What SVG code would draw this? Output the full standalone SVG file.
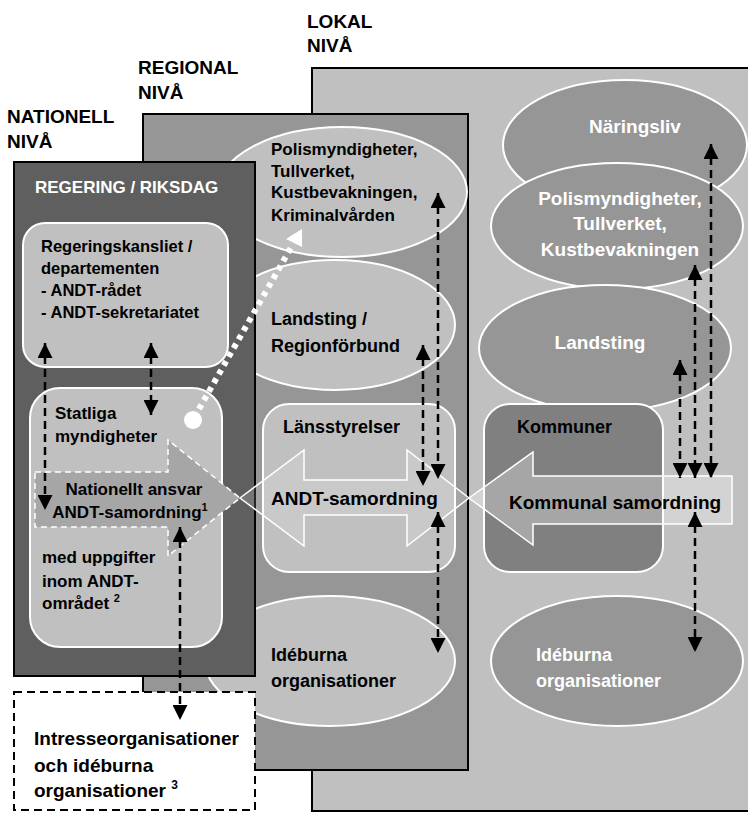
<svg xmlns="http://www.w3.org/2000/svg" width="748" height="813" viewBox="0 0 748 813">
<defs>
<style>
text{font-family:"Liberation Sans",Arial,sans-serif;font-weight:bold;fill:#000}
.lvl{font-size:19px}
.w{fill:#fff}
.panel{stroke:#000;stroke-width:2}
.box{fill:#c0c0c0;stroke:#fff;stroke-width:2}
.ell{stroke:#fff;stroke-width:2}
.dash{stroke:#000;stroke-width:2.5;stroke-dasharray:8 5;fill:none;marker-start:url(#ah);marker-end:url(#ah)}
</style>
<marker id="ah" viewBox="0 0 15 15" refX="15" refY="7.5" markerWidth="15" markerHeight="15" markerUnits="userSpaceOnUse" orient="auto-start-reverse">
<path d="M0,0 L15,7.5 L0,15 z" fill="#000"/>
</marker>
</defs>
<rect width="748" height="813" fill="#fff"/>

<!-- level labels -->
<g id="labels">
<text class="lvl" x="307" y="28">LOKAL</text>
<text class="lvl" x="307" y="52">NIVÅ</text>
<text class="lvl" x="138" y="74">REGIONAL</text>
<text class="lvl" x="138" y="99">NIVÅ</text>
<text class="lvl" x="7" y="123">NATIONELL</text>
<text class="lvl" x="7" y="148">NIVÅ</text>
</g>

<!-- lokal panel -->
<g id="lokal">
<rect class="panel" x="312" y="68" width="440" height="743" fill="#c0c0c0"/>
<g id="naringsliv">
<ellipse class="ell" cx="625" cy="145" rx="122" ry="65" fill="#969696"/>
<text class="w" x="635" y="133" font-size="19" text-anchor="middle">Näringsliv</text>
</g>
<g id="polis-lokal">
<ellipse class="ell" cx="617" cy="226" rx="126" ry="63" fill="#969696"/>
<text class="w" font-size="19" text-anchor="middle"><tspan x="620" y="205">Polismyndigheter,</tspan><tspan x="620" y="230">Tullverket,</tspan><tspan x="620" y="256">Kustbevakningen</tspan></text>
</g>
<g id="landsting-lokal">
<ellipse class="ell" cx="605" cy="348" rx="126" ry="63" fill="#969696"/>
<text class="w" x="600" y="349" font-size="19" text-anchor="middle">Landsting</text>
</g>
<g id="kommuner">
<rect x="484" y="404" width="179" height="168" rx="26" fill="#808080" stroke="#fff" stroke-width="2"/>
<text x="517" y="433" font-size="18">Kommuner</text>
</g>
<g id="ideburna-lokal">
<ellipse class="ell" cx="617" cy="661" rx="126" ry="65" fill="#969696"/>
<text class="w" font-size="18"><tspan x="536" y="661">Idéburna</tspan><tspan x="536" y="687">organisationer</tspan></text>
</g>
</g>

<!-- regional panel -->
<g id="regional">
<rect class="panel" x="143" y="114" width="325" height="656" fill="#969696"/>
<g id="polis-regional">
<ellipse class="ell" cx="342" cy="192" rx="125" ry="65" fill="#c0c0c0"/>
<text font-size="17"><tspan x="271" y="155">Polismyndigheter,</tspan><tspan x="271" y="177">Tullverket,</tspan><tspan x="271" y="198">Kustbevakningen,</tspan><tspan x="271" y="221">Kriminalvården</tspan></text>
</g>
<g id="landsting-regional">
<ellipse class="ell" cx="335" cy="325" rx="120" ry="65" fill="#c0c0c0"/>
<text font-size="18"><tspan x="271" y="325">Landsting /</tspan><tspan x="271" y="352">Regionförbund</tspan></text>
</g>
<g id="lansstyrelser">
<rect class="box" x="263" y="404" width="192" height="168" rx="26"/>
<text x="283" y="433" font-size="18">Länsstyrelser</text>
</g>
<g id="ideburna-regional">
<ellipse class="ell" cx="330" cy="661" rx="125" ry="65" fill="#c0c0c0"/>
<text font-size="18"><tspan x="271" y="661">Idéburna</tspan><tspan x="271" y="687">organisationer</tspan></text>
</g>
</g>

<!-- national panel -->
<g id="nationell">
<rect class="panel" x="14" y="162" width="241" height="514" fill="#5f5f5f"/>
<text class="w" x="35" y="193" font-size="17">REGERING / RIKSDAG</text>
<g id="regeringskansliet">
<rect class="box" x="23" y="223" width="205" height="144" rx="22"/>
<text font-size="16.5"><tspan x="41" y="252">Regeringskansliet /</tspan><tspan x="41" y="274">departementen</tspan><tspan x="41" y="296">- ANDT-rådet</tspan><tspan x="41" y="318">- ANDT-sekretariatet</tspan></text>
</g>
<g id="statliga">
<rect class="box" x="30" y="388" width="192" height="259" rx="30"/>
<text font-size="17"><tspan x="55" y="419">Statliga</tspan><tspan x="55" y="442">myndigheter</tspan></text>
<text font-size="17"><tspan x="42" y="563">med uppgifter</tspan><tspan x="42" y="587">inom ANDT-</tspan><tspan x="42" y="609">området <tspan font-size="11" dy="-7">2</tspan></tspan></text>
</g>
</g>

<!-- block arrows -->
<g id="nationellt-ansvar">
<polygon points="35,472 168,472 168,440 240,498 168,556 168,527 35,527" fill="#a6a6a6" stroke="#fff" stroke-width="1.5" stroke-dasharray="6 4"/>
<text font-size="17" text-anchor="middle"><tspan x="134" y="495">Nationellt ansvar</tspan><tspan x="130" y="518">ANDT-samordning<tspan font-size="11" dy="-7">1</tspan></tspan></text>
</g>
<g id="andt-samordning">
<polygon points="240,498 304,450 304,480 407,480 407,450 469,498 407,546 407,515 304,515 304,546" fill="#fff" fill-opacity="0.15" stroke="#fff" stroke-width="1.5"/>
<text x="271" y="505" font-size="19">ANDT-samordning</text>
</g>
<g id="kommunal-samordning">
<polygon points="469,498 533,452 533,476 732,476 732,524 533,524 533,545" fill="#fff" fill-opacity="0.3" stroke="#fff" stroke-width="1.5"/>
<text x="509" y="509" font-size="19">Kommunal samordning</text>
</g>

<!-- interest organisations -->
<g id="intresseorganisationer">
<rect x="14" y="692" width="241" height="118" fill="#fff" stroke="#000" stroke-width="2" stroke-dasharray="8 5"/>
<text font-size="19"><tspan x="34" y="745">Intresseorganisationer</tspan><tspan x="34" y="772">och idéburna</tspan><tspan x="34" y="797">organisationer <tspan font-size="12" dy="-8">3</tspan></tspan></text>
</g>

<!-- connectors -->
<g id="connectors">
<line class="dash" x1="45" y1="343" x2="45" y2="510"/>
<line class="dash" x1="151" y1="343" x2="151" y2="415"/>
<line class="dash" x1="180" y1="527" x2="180" y2="720"/>
<line class="dash" x1="438" y1="193" x2="438" y2="479"/>
<line class="dash" x1="423" y1="345" x2="423" y2="486"/>
<line class="dash" x1="438" y1="512" x2="438" y2="653"/>
<line class="dash" x1="711" y1="144" x2="711" y2="478"/>
<line class="dash" x1="695" y1="265" x2="695" y2="478"/>
<line class="dash" x1="680" y1="360" x2="680" y2="478"/>
<line class="dash" x1="695" y1="512" x2="695" y2="652"/>
<g id="dotted">
<circle cx="193" cy="420" r="9" fill="#fff"/>
<line x1="199" y1="409" x2="293" y2="244" stroke="#fff" stroke-width="6" stroke-dasharray="5 5"/>
<polygon points="302,229 286,239 302,247" fill="#fff"/>
</g>
</g>
</svg>
